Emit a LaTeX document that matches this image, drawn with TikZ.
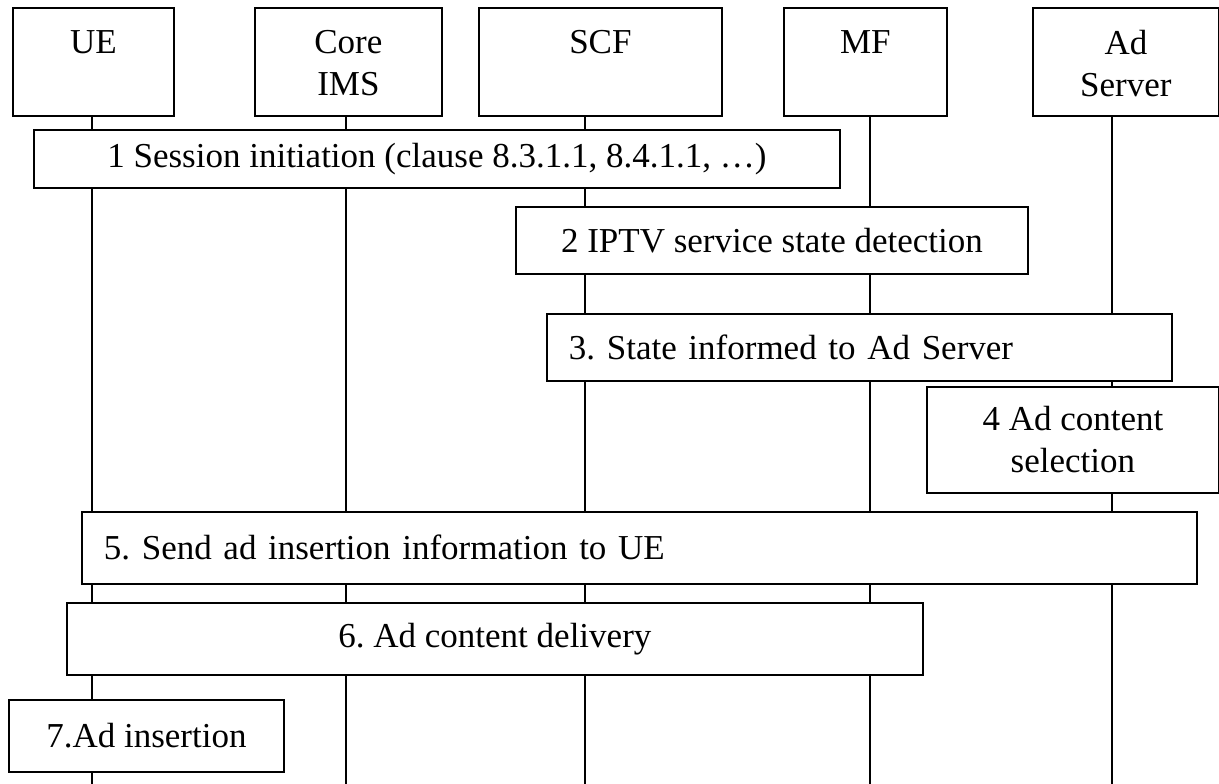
\documentclass[tikz,border=0pt]{standalone}
\usepackage{fontspec}
\setmainfont{Liberation Serif}
\usetikzlibrary{positioning}
\tikzset{
  entity/.style={draw, line width=1.8pt, fill=white, inner sep=0pt,
    minimum height=108pt, anchor=north west},
  entitylabel/.style={inner sep=0pt, align=center},
  lifeline/.style={line width=1.8pt},
  stepbox/.style={draw, line width=1.8pt, fill=white, inner sep=0pt,
    anchor=north west, align=center},
  stepboxleft/.style={stepbox, align=left, inner xsep=22pt}
}

\begin{document}
\frenchspacing
\begin{tikzpicture}[x=1pt, y=-1pt, font=\fontsize{35}{42}\selectfont]
  \useasboundingbox (0,0) rectangle (1219,784);
  \foreach \nm/\l/\r/\lx/\lab in {ue/12/173/92/UE, ims/254/441/346/{Core\\IMS},
      scf/478/721/585/SCF, mf/783/946/870/MF, ads/1032/1218/1112/{Ad\\Server}}{%
    \node[entity, minimum width=\r-\l] (\nm) at (\l,7) {};
    \node[entitylabel, below=23pt of \nm.north] (\nm-lab) {\lab};
    \coordinate (\nm-end) at (\lx,784);
    \draw[lifeline] (\nm.south -| \nm-end) -- (\nm-end);}
  \node[stepbox, minimum width=806, minimum height=58] (s1) at (33,129)
    {1 Session initiation (clause 8.3.1.1, 8.4.1.1, …)};
  \node[stepbox, minimum width=512, minimum height=67] (s2) at (515,206)
    {2 IPTV service state detection};
  \node[stepboxleft, text width=581pt, minimum height=67] (s3) at (546,313)
    {3. State informed to Ad Server};
  \node[stepbox, minimum width=292, minimum height=106] (s4) at (926,386)
    {4 Ad content\\selection};
  \node[stepboxleft, text width=1071pt, minimum height=72] (s5) at (81,511)
    {5. Send ad insertion information to UE};
  \node[stepbox, minimum width=856, minimum height=72] (s6) at (66,602)
    {6. Ad content delivery};
  \node[stepbox, minimum width=275, minimum height=72] (s7) at (8,699)
    {7.Ad insertion};
\end{tikzpicture}
\end{document}
